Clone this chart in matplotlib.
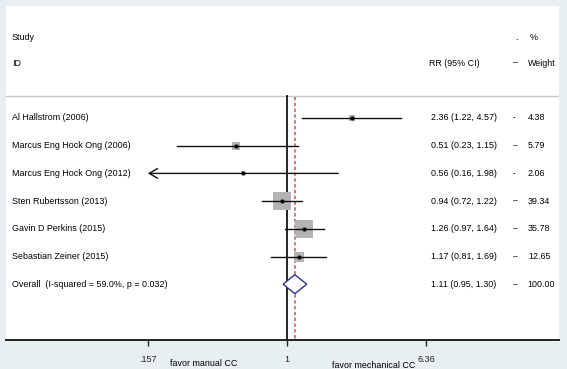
import matplotlib
matplotlib.use("Agg")
import matplotlib.pyplot as plt
from matplotlib.patches import Polygon
import numpy as np

# ---- data ----
studies = ["Al Hallstrom (2006)", "Marcus Eng Hock Ong (2006)", "Marcus Eng Hock Ong (2012)",
           "Sten Rubertsson (2013)", "Gavin D Perkins (2015)", "Sebastian Zeiner (2015)"]
rr = [2.36, 0.51, 0.56, 0.94, 1.26, 1.17]
ci_lo = [1.22, 0.23, 0.16, 0.72, 0.97, 0.81]
ci_hi = [4.57, 1.15, 1.98, 1.22, 1.64, 1.69]
weights = [4.38, 5.79, 2.06, 39.34, 35.78, 12.65]
dash_col = ["-", "--", "-", "--", "--", "--"]
overall_label = "Overall  (I-squared = 59.0%, p = 0.032)"
overall_rr, overall_lo, overall_hi, overall_w = 1.11, 0.95, 1.30, 100.00
tick_vals = [0.157, 1, 6.36]
tick_labels = [".157", "1", "6.36"]

plt.rcParams['font.family'] = ['Liberation Sans', 'DejaVu Sans']
W, H = 567, 369
fig = plt.figure(figsize=(W / 100, H / 100), dpi=100, facecolor="#e8eff0")

def fx(px):
    return px / W

def fy(py):
    return 1 - py / H

ax_l, ax_r, ax_t, ax_b = 6, 559, 6, 340
ax = fig.add_axes([fx(ax_l), fy(ax_b), (ax_r - ax_l) / W, (ax_b - ax_t) / H])
ax.set_facecolor("white")
ax.set_xscale("log")
ppl = 139 / np.log(6.36)
ax.set_xlim(np.exp((ax_l - 287) / ppl), np.exp((ax_r - 287) / ppl))
row_px0, row_dp = 118, 27.7
ax.set_ylim((ax_b - row_px0) / row_dp, (ax_t - row_px0) / row_dp)

for s in ["top", "left", "right"]:
    ax.spines[s].set_visible(False)
ax.spines["bottom"].set_linewidth(1.4)
ax.spines["bottom"].set_color("#222222")
ax.set_yticks([])
ax.set_xticks(tick_vals)
ax.set_xticklabels(tick_labels, fontsize=6.5)
ax.xaxis.set_minor_locator(matplotlib.ticker.NullLocator())
ax.tick_params(axis="x", direction="out", length=4, width=1, pad=7, colors="#222222")

def ypx(py):
    return (py - row_px0) / row_dp

tr = ax.get_yaxis_transform()
def axx(px):
    return (px - ax_l) / (ax_r - ax_l)

fs = 6.4
# header
ax.axhline(ypx(96), color="#c8c8c8", lw=1)
ax.text(axx(12), ypx(37), "Study", transform=tr, fontsize=fs, va="center")
ax.text(axx(12), ypx(63), "ID", transform=tr, fontsize=fs, va="center")
ax.text(axx(429), ypx(63), "RR (95% CI)", transform=tr, fontsize=fs, va="center")
ax.text(axx(515), ypx(37), ".", transform=tr, fontsize=fs, va="center")
ax.text(axx(530), ypx(37), "%", transform=tr, fontsize=fs, va="center")
ax.text(axx(513), ypx(63), "–", transform=tr, fontsize=fs, va="center")
ax.text(axx(528), ypx(63), "Weight", transform=tr, fontsize=fs, va="center")

# reference lines
ax.plot([1, 1], [ypx(96), ypx(ax_b)], color="#111111", lw=1.3, zorder=2)
ax.plot([overall_rr, overall_rr], [ypx(97), ypx(ax_b)], color="#c9505a", lw=1.1,
        ls=(0, (2.2, 1.6)), zorder=2)

xmin_tick = min(tick_vals)
for i, (name, r, lo, hi, w, d) in enumerate(zip(studies, rr, ci_lo, ci_hi, weights, dash_col)):
    y = i
    side_pt = 2.15 * np.sqrt(w)
    ax.scatter([r], [y], marker="s", s=side_pt ** 2, color="#b3b3b3", zorder=3, linewidths=0)
    if lo <= xmin_tick * 1.05:
        ax.annotate("", xy=(xmin_tick, y), xytext=(hi, y),
                    arrowprops=dict(arrowstyle="->,head_length=0.6,head_width=0.35",
                                    lw=1.0, color="#111111", mutation_scale=10,
                                    shrinkA=0, shrinkB=0), zorder=4)
    else:
        ax.plot([lo, hi], [y, y], color="#111111", lw=1.0, zorder=4)
    ax.scatter([r], [y], marker="o", s=9, color="black", zorder=5, linewidths=0)
    ax.text(axx(12), y, name, transform=tr, fontsize=fs, va="center")
    ax.text(axx(431), y, f"{r:.2f} ({lo:.2f}, {hi:.2f})", transform=tr, fontsize=fs, va="center")
    ax.text(axx(513), y, d, transform=tr, fontsize=fs, va="center")
    ax.text(axx(528), y, f"{w:.2f}", transform=tr, fontsize=fs, va="center")

yo = len(studies)
h = 9.5 / row_dp
diamond = Polygon([(overall_lo, yo), (overall_rr, yo - h), (overall_hi, yo), (overall_rr, yo + h)],
                  closed=True, facecolor="white", edgecolor="#2f3193", lw=1.0, zorder=4)
ax.add_patch(diamond)
ax.text(axx(12), yo, overall_label, transform=tr, fontsize=fs, va="center")
ax.text(axx(431), yo, f"{overall_rr:.2f} ({overall_lo:.2f}, {overall_hi:.2f})", transform=tr,
        fontsize=fs, va="center")
ax.text(axx(513), yo, "--", transform=tr, fontsize=fs, va="center")
ax.text(axx(527), yo, f"{overall_w:.2f}", transform=tr, fontsize=fs, va="center")

fig.text(fx(170), fy(364), "favor manual CC", fontsize=fs, va="center")
fig.text(fx(332), fy(366), "favor mechanical CC", fontsize=fs, va="center")

fig.savefig("out.png", dpi=100, facecolor=fig.get_facecolor())
